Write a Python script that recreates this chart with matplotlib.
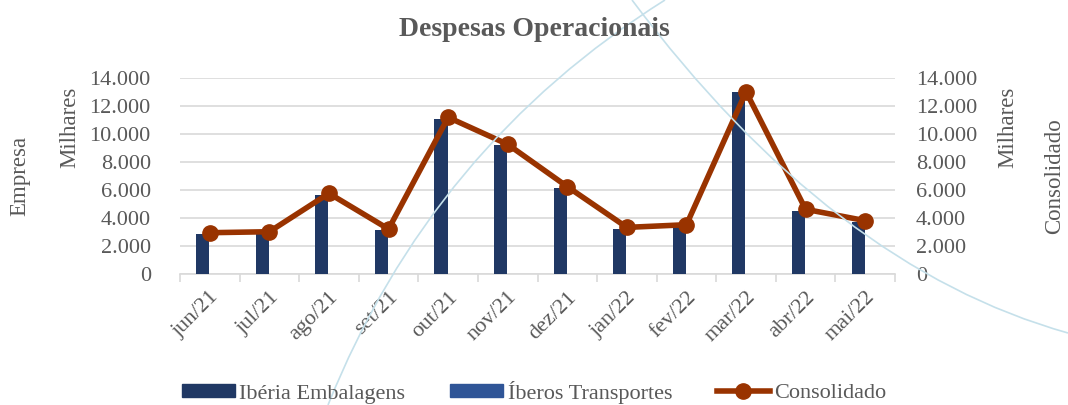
import numpy as np
import matplotlib.pyplot as plt
from matplotlib.lines import Line2D
from matplotlib.patches import PathPatch
from matplotlib.path import Path
from matplotlib.ticker import FuncFormatter

plt.rcParams['font.family'] = ['Liberation Serif', 'DejaVu Serif']

months = ['jun/21', 'jul/21', 'ago/21', 'set/21', 'out/21', 'nov/21',
          'dez/21', 'jan/22', 'fev/22', 'mar/22', 'abr/22', 'mai/22']
# valores em milhares (eixo mostra em "Milhares")
iberia = [2860, 2900, 5640, 3140, 11100, 9190, 6140, 3240, 3450, 12980, 4520, 3740]
iberos = [15, 15, 25, 15, 20, 15, 25, 15, 15, 15, 20, 15]
consolidado = [2950, 3020, 5760, 3210, 11190, 9260, 6240, 3330, 3520, 13020, 4620, 3810]

grey = '#595959'
fig = plt.figure(figsize=(10.68, 4.05), dpi=100)

# decorative watermark curves in the background (pixel coords of the picture)
for verts in ([(328, 405), (432, 146), (665, 0)],
              [(632, 0), (832, 267), (1068, 333)]):
    pts = [(px / 1068, 1 - py / 405) for px, py in verts]
    p = Path(pts, [Path.MOVETO, Path.CURVE3, Path.CURVE3])
    fig.patches.append(PathPatch(p, transform=fig.transFigure, fill=False,
                                 edgecolor='#c5e0ea', lw=1.2, zorder=0))

ax = fig.add_axes([180 / 1068, 1 - 274 / 405, 715 / 1068, 196 / 405])
ax.patch.set_alpha(0)
x = np.arange(len(months))
w = 0.22
ax.bar(x - 0.12, iberia, w, color='#203864', zorder=3)
ax.bar(x + 0.11, iberos, w, color='#2f5597', zorder=3)

ax2 = ax.twinx()
ax2.plot(x, consolidado, color='#993300', lw=4, marker='o', ms=11, zorder=4)

for a in (ax, ax2):
    a.set_ylim(0, 14000)
    a.set_yticks(np.arange(0, 14001, 2000))
    a.yaxis.set_major_formatter(FuncFormatter(lambda v, p: f'{int(v):,}'.replace(',', '.')))
    a.tick_params(axis='y', length=0, labelsize=16, labelcolor=grey)
    for s in a.spines.values():
        s.set_visible(False)
ax.tick_params(axis='y', pad=21)
ax2.tick_params(axis='y', pad=15)

ax.set_xlim(-0.5, len(months) - 0.5)
ax.grid(axis='y', color='#d9d9d9', lw=1.2, zorder=0)
ax.spines['bottom'].set_visible(True)
ax.spines['bottom'].set_color('#d9d9d9')
ax.spines['bottom'].set_linewidth(1.2)
ax.set_xticks(x)
ax.set_xticklabels(months, rotation=45, ha='right', rotation_mode='anchor',
                   fontsize=16, color=grey)
ax.tick_params(axis='x', length=0, pad=10)
ax.set_xticks(np.arange(-0.5, len(months)), minor=True)
ax.tick_params(axis='x', which='minor', length=6, color='#d9d9d9', width=1.2)

fig.text(0.5, 1 - 29 / 405, 'Despesas Operacionais', ha='center', va='center',
         fontsize=20, fontweight='bold', color=grey)
fig.text(70 / 1068, 1 - 127 / 405, 'Milhares', rotation=90, ha='center', va='center',
         fontsize=16.5, color=grey)
fig.text(20 / 1068, 1 - 176 / 405, 'Empresa', rotation=90, ha='center', va='center',
         fontsize=16.5, color=grey)
fig.text(1008 / 1068, 1 - 127 / 405, 'Milhares', rotation=90, ha='center', va='center',
         fontsize=16.5, color=grey)
fig.text(1055 / 1068, 1 - 176 / 405, 'Consolidado', rotation=90, ha='center', va='center',
         fontsize=16.5, color=grey)

handles = [plt.Rectangle((0, 0), 1, 1, color='#203864'),
           plt.Rectangle((0, 0), 1, 1, color='#2f5597'),
           Line2D([], [], color='#993300', lw=4, marker='o', ms=11)]
fig.legend(handles, ['Ibéria Embalagens', 'Íberos Transportes', 'Consolidado'],
           loc='center', bbox_to_anchor=(0.5, 1 - 392 / 405), ncol=3, frameon=False,
           fontsize=16, labelcolor=grey, handlelength=2.4, handleheight=0.5,
           handletextpad=0.2, columnspacing=2.0, borderpad=0)

fig.savefig('out.png', dpi=100)
